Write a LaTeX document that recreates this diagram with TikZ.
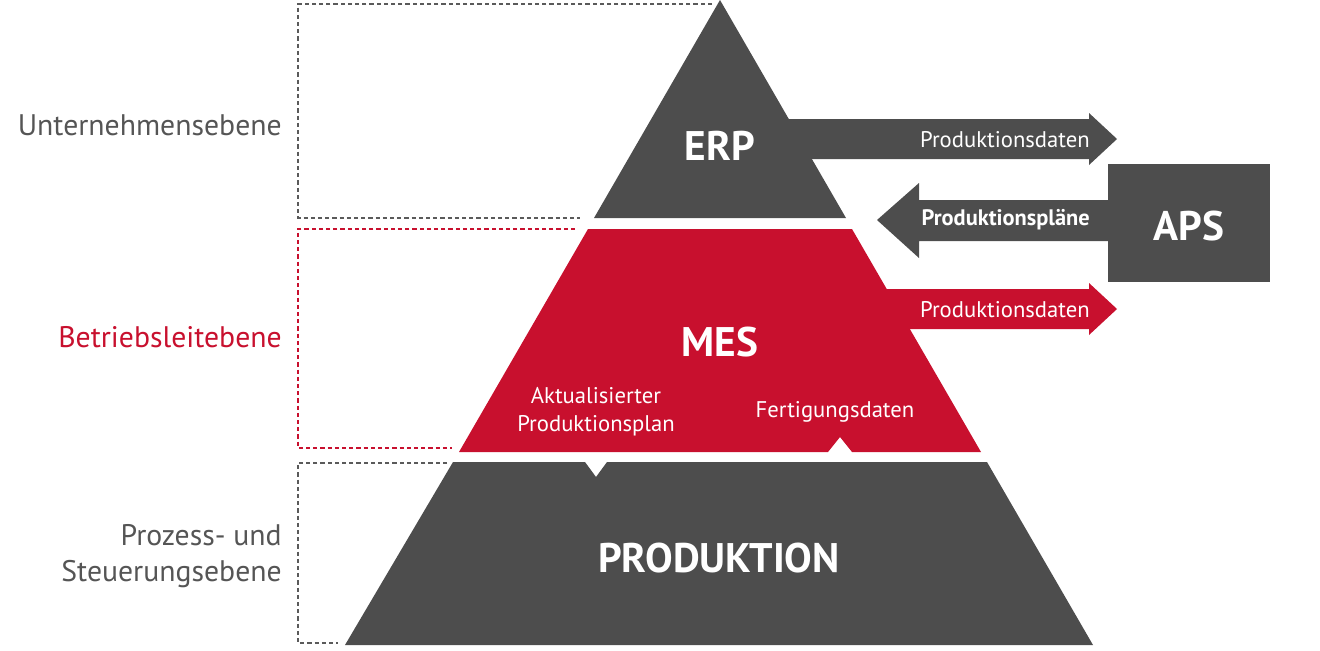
\documentclass[tikz,border=0pt]{standalone}
\usepackage{fontspec}
\setmainfont{PT Sans}
\definecolor{dgray}{HTML}{4D4D4D}
\definecolor{mred}{HTML}{C8102E}
\definecolor{lgray}{HTML}{555555}
\definecolor{dashgray}{HTML}{5A5A5A}
\begin{document}
\begin{tikzpicture}[x=0.75pt,y=-0.75pt,
  big/.style={text=white,font=\bfseries\fontsize{31}{31}\selectfont,inner sep=0pt},
  small/.style={text=white,font=\fontsize{17}{20}\selectfont,inner sep=0pt},
  side/.style={font=\fontsize{22.3}{27.5}\selectfont,inner sep=0pt,anchor=east,align=right},
  guide/.style={dashgray,line width=1.1pt,dash pattern=on 3.2pt off 2.2pt},
  redguide/.style={mred,line width=1.1pt,dash pattern=on 3.2pt off 2.2pt}]
\useasboundingbox (0,0) rectangle (1320,650);
% dashed guides
\draw[guide] (712,4) -- (298,4) -- (298,218) -- (580,218);
\draw[redguide] (575,229) -- (298,229) -- (298,448) -- (452,448);
\draw[guide] (447,463) -- (298,463) -- (298,643) -- (338,643);
% pyramid
\fill[dgray] (720,0) -- (846,218) -- (594,218) -- cycle;
\fill[mred] (588,229) -- (852,229) -- (981,452) -- (852,452) -- (840,437) -- (828,452) -- (459,452) -- cycle;
\fill[dgray] (453,462) -- (585,462) -- (596,477) -- (607,462) -- (987,462) -- (1093,645) -- (345,645) -- cycle;
% arrows
\fill[dgray] (760,119) -- (1089,119) -- (1089,113) -- (1117,139) -- (1089,165) -- (1089,159) -- (760,159) -- cycle;
\fill[mred] (870,289) -- (1089,289) -- (1089,283) -- (1117,309) -- (1089,335) -- (1089,329) -- (870,329) -- cycle;
\fill[dgray] (1108,200) -- (919,200) -- (919,183) -- (877,220) -- (919,258) -- (919,241) -- (1108,241) -- cycle;
\fill[dgray] (1108,164) rectangle (1270,282);
% texts
\node[big] (erp) at (720,146) {ERP};
\node[big] (mes) at (720,342) {MES};
\node[big] (prod) at (719,558) {PRODUKTION};
\node[big] (aps) at (1189,226) {APS};
\node[small,anchor=east] (pd1) at (1090,140) {Produktionsdaten};
\node[small,anchor=east] (pd2) at (1090,310) {Produktionsdaten};
\node[small,anchor=east,font=\bfseries\fontsize{16.8}{20}\selectfont] (pp) at (1090,220) {Produktionspläne};
\node[small,align=center,font=\fontsize{17}{21}\selectfont] (akt) at (596,412) {Aktualisierter\\Produktionsplan};
\node[small] (fert) at (835,412) {Fertigungsdaten};
\node[side,text=lgray] (l1) at (282,125) {Unternehmensebene};
\node[side,text=mred] (l2) at (282,337) {Betriebsleitebene};
\node[side,text=lgray] (l3) at (282,556) {Prozess- und\\Steuerungsebene};
\end{tikzpicture}
\end{document}
